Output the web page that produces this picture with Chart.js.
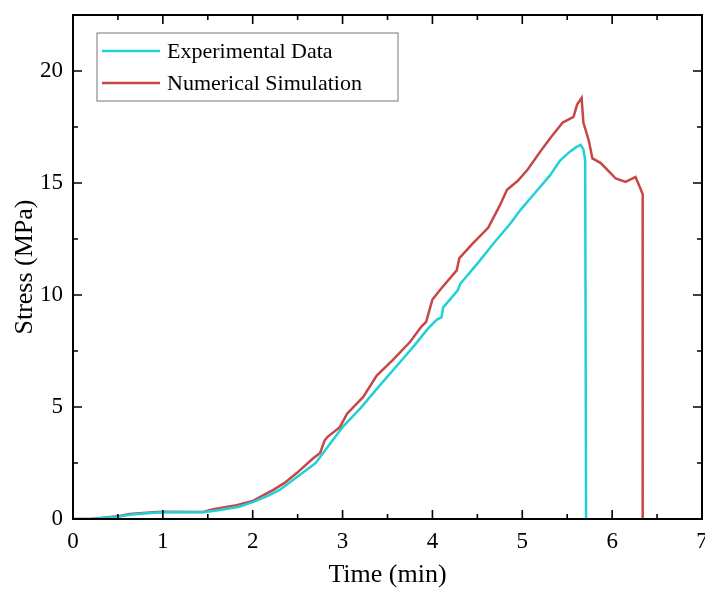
<!DOCTYPE html>
<html>
<head>
<meta charset="utf-8">
<script src="https://cdn.jsdelivr.net/npm/chart.js@4/dist/chart.umd.min.js"></script>
<style>
  html, body { margin: 0; padding: 0; background: #fff; }
  #wrap { width: 705px; height: 591px; }
</style>
</head>
<body>
<div id="wrap"><canvas id="grafico" width="705" height="591"></canvas></div>
<script>
// Dados (tempo em min, tensão em MPa)
const tempoExp = [0, 0.2, 0.5, 0.65, 0.9, 1.0, 1.45, 1.6, 1.85, 2.0, 2.15, 2.3, 2.5, 2.7, 2.85, 3.0, 3.2, 3.4, 3.66, 3.8, 3.95, 4.05, 4.1, 4.12, 4.28, 4.31, 4.5, 4.7, 4.87, 4.98, 5.15, 5.31, 5.42, 5.53, 5.6, 5.65, 5.68, 5.70, 5.71];
const tensaoExp = [0, 0, 0.1, 0.2, 0.28, 0.3, 0.3, 0.38, 0.55, 0.75, 1.0, 1.3, 1.9, 2.5, 3.3, 4.1, 4.95, 5.9, 7.1, 7.75, 8.5, 8.9, 9.0, 9.45, 10.2, 10.5, 11.4, 12.4, 13.2, 13.8, 14.6, 15.35, 16.0, 16.4, 16.6, 16.7, 16.5, 16.0, 0];

const tempoNum = [0, 0.2, 0.52, 0.63, 0.89, 1.0, 1.45, 1.56, 1.82, 2.0, 2.12, 2.23, 2.35, 2.49, 2.67, 2.75, 2.8, 2.83, 2.97, 3.05, 3.23, 3.38, 3.56, 3.75, 3.88, 3.93, 4.0, 4.1, 4.27, 4.3, 4.45, 4.62, 4.75, 4.83, 4.95, 5.06, 5.2, 5.31, 5.45, 5.57, 5.61, 5.66, 5.68, 5.74, 5.78, 5.87, 5.98, 6.04, 6.15, 6.26, 6.31, 6.34, 6.34];
const tensaoNum = [0, 0, 0.13, 0.22, 0.3, 0.32, 0.31, 0.44, 0.62, 0.8, 1.07, 1.3, 1.6, 2.05, 2.7, 2.95, 3.5, 3.66, 4.1, 4.7, 5.45, 6.4, 7.1, 7.9, 8.6, 8.8, 9.8, 10.3, 11.1, 11.65, 12.3, 13.0, 14.0, 14.7, 15.1, 15.6, 16.4, 17.0, 17.7, 17.95, 18.5, 18.8, 17.7, 16.9, 16.1, 15.9, 15.45, 15.2, 15.05, 15.27, 14.8, 14.5, 0];

const ticksX = [0, 1, 2, 3, 4, 5, 6, 7];
const ticksY = [0, 5, 10, 15, 20];

const nomes = ["Experimental Data", "Numerical Simulation"];
const cores = ["#22d0d8", "#c84646"];

const fonte = "'Liberation Serif', 'Times New Roman', serif";

function pares(xs, ys) {
  return xs.map((x, i) => ({ x: x, y: ys[i] }));
}

// Moldura, marcas internas e legenda dentro do gráfico
const molduraPlugin = {
  id: 'moldura',
  afterDraw(chart) {
    const ctx = chart.ctx;
    const a = chart.chartArea;
    const sx = chart.scales.x;
    const sy = chart.scales.y;
    ctx.save();
    ctx.strokeStyle = '#000';
    ctx.lineWidth = 2;
    ctx.strokeRect(a.left, a.top, a.right - a.left, a.bottom - a.top);

    ctx.lineWidth = 1.6;
    ctx.beginPath();
    for (let v = 0; v <= 7; v += 0.5) {
      const px = sx.getPixelForValue(v);
      const len = (v % 1 === 0) ? 9 : 5;
      ctx.moveTo(px, a.bottom); ctx.lineTo(px, a.bottom - len);
      ctx.moveTo(px, a.top); ctx.lineTo(px, a.top + len);
    }
    for (let v = 0; v <= 22.5; v += 2.5) {
      const py = sy.getPixelForValue(v);
      const len = (v % 5 === 0) ? 9 : 5;
      ctx.moveTo(a.left, py); ctx.lineTo(a.left + len, py);
      ctx.moveTo(a.right, py); ctx.lineTo(a.right - len, py);
    }
    ctx.stroke();

    // legenda
    const lx = 97, ly = 33, lw = 301, lh = 68;
    ctx.lineWidth = 1;
    ctx.strokeStyle = '#777';
    ctx.strokeRect(lx, ly, lw, lh);
    ctx.font = '22px ' + fonte;
    ctx.textBaseline = 'middle';
    ctx.fillStyle = '#000';
    nomes.forEach((nome, i) => {
      const y = ly + 18 + i * 32;
      ctx.strokeStyle = cores[i];
      ctx.lineWidth = 2.5;
      ctx.beginPath();
      ctx.moveTo(lx + 5, y); ctx.lineTo(lx + 63, y);
      ctx.stroke();
      ctx.fillText(nome, lx + 70, y + 1);
    });
    ctx.restore();
  }
};

const ctx = document.getElementById('grafico').getContext('2d');
new Chart(ctx, {
  type: 'line',
  data: {
    datasets: [
      {
        label: nomes[0],
        data: pares(tempoExp, tensaoExp),
        borderColor: cores[0],
        borderWidth: 2.5,
        pointRadius: 0,
        tension: 0,
        fill: false
      },
      {
        label: nomes[1],
        data: pares(tempoNum, tensaoNum),
        borderColor: cores[1],
        borderWidth: 2.5,
        pointRadius: 0,
        tension: 0,
        fill: false
      }
    ]
  },
  options: {
    responsive: false,
    animation: false,
    layout: { padding: { top: 15, right: 3, left: 0, bottom: 0 } },
    plugins: {
      legend: { display: false },
      tooltip: { enabled: false }
    },
    scales: {
      x: {
        type: 'linear',
        min: 0,
        max: 7,
        afterFit(scale) {
          scale.height = 72;
          scale.paddingLeft = 0;
          scale.paddingRight = 0;
        },
        afterBuildTicks(scale) { scale.ticks = ticksX.map(v => ({ value: v })); },
        grid: { display: false, drawTicks: false },
        border: { display: false },
        ticks: { color: '#000', padding: 9, maxRotation: 0, font: { family: fonte, size: 23 } },
        title: {
          display: true,
          text: 'Time (min)',
          color: '#000',
          font: { family: fonte, size: 26 },
          padding: { top: 0, bottom: 0 }
        }
      },
      y: {
        type: 'linear',
        min: 0,
        max: 22.5,
        afterFit(scale) {
          scale.width = 73;
          scale.paddingTop = 0;
          scale.paddingBottom = 0;
        },
        afterBuildTicks(scale) { scale.ticks = ticksY.map(v => ({ value: v })); },
        grid: { display: false, drawTicks: false },
        border: { display: false },
        ticks: { color: '#000', padding: 10, font: { family: fonte, size: 23 } },
        title: {
          display: true,
          text: 'Stress (MPa)',
          color: '#000',
          font: { family: fonte, size: 26 },
          padding: { top: 10, bottom: 4 }
        }
      }
    }
  },
  plugins: [molduraPlugin]
});
</script>
</body>
</html>
